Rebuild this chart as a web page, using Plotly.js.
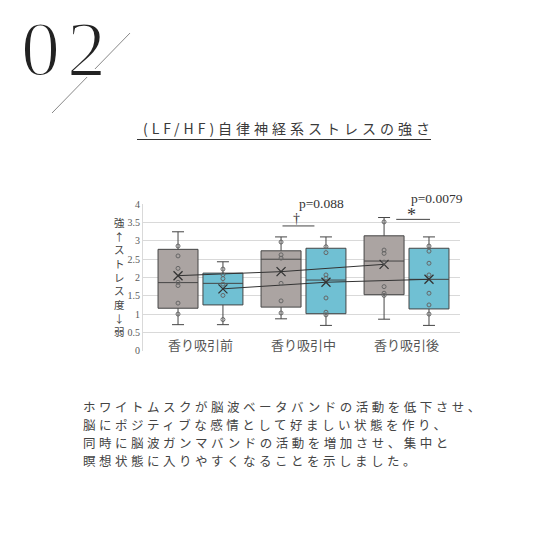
<!DOCTYPE html>
<html>
<head>
<meta charset="utf-8">
<script src="https://cdn.plot.ly/plotly-3.0.1.min.js"></script>
<style>
  html, body { margin: 0; padding: 0; background: #fff; }
  #wrap { position: relative; width: 550px; height: 550px; overflow: hidden; }
  #chart { position: absolute; left: 0; top: 0; width: 550px; height: 550px; }
  .txt { position: absolute; white-space: nowrap; color: #3a3a3a; pointer-events: none; }
  #num { left: 21px; top: 10px; font-family: "Liberation Serif", serif; font-size: 78px; line-height: 78px; letter-spacing: 7px; color: #222; -webkit-text-stroke: 2px #fff; }
  #ttl { left: 143px; top: 120px; font-family: "Noto Sans CJK JP", sans-serif; font-size: 14px; line-height: 16px; letter-spacing: 4px; }
  #rule { position: absolute; left: 137px; top: 139px; width: 294px; height: 1px; background: #333; }
  #body { left: 83px; top: 398px; font-family: "Noto Sans CJK JP", sans-serif; font-size: 12.5px; line-height: 18px; letter-spacing: 3.5px; color: #444; }
</style>
</head>
<body>
<div id="wrap">
  <div id="chart"></div>
  <div id="num" class="txt">02</div>
  <div id="ttl" class="txt">(LF/HF)自律神経系ストレスの強さ</div>
  <div id="rule"></div>
  <div id="body" class="txt">ホワイトムスクが脳波ベータバンドの活動を低下させ、<br>脳にポジティブな感情として好ましい状態を作り、<br>同時に脳波ガンマバンドの活動を増加させ、集中と<br>瞑想状態に入りやすくなることを示しました。</div>
</div>
<script>
var categories = ['香り吸引前', '香り吸引中', '香り吸引後'];

// gray boxes (left box of each pair)
var grayUpper = [3.25, 3.11, 3.64];
var grayQ3 = [2.77, 2.73, 3.14];
var grayMedian = [1.86, 2.50, 2.45];
var grayQ1 = [1.16, 1.19, 1.53];
var grayLower = [0.71, 0.87, 0.86];
var grayMean = [2.05, 2.16, 2.36];
var grayPoints = [
  [2.86, 2.59, 2.25, 1.87, 1.78, 1.30, 1.00],
  [2.97, 2.62, 2.53, 1.84, 1.36, 1.03],
  [3.52, 2.75, 2.66, 2.42, 1.75, 1.57, 1.51]
];

// blue boxes (right box of each pair)
var blueUpper = [2.43, 3.11, 3.11];
var blueQ3 = [2.12, 2.80, 2.80];
var blueMedian = [1.84, 1.93, 1.95];
var blueQ1 = [1.25, 1.01, 1.14];
var blueLower = [0.71, 0.69, 0.69];
var blueMean = [1.69, 1.87, 1.95];
var bluePoints = [
  [2.23, 2.08, 1.97, 1.82, 1.51, 0.85],
  [2.84, 2.68, 2.07, 1.98, 1.44, 1.05, 0.98],
  [2.86, 2.72, 2.39, 2.07, 1.57, 1.25, 1.00]
];

var yTitle = ['強', '↑', 'ス', 'ト', 'レ', 'ス', '度', '↓', '弱'];
var pLabels = ['p=0.088', 'p=0.0079'];
var sigMarks = ['†', '*'];
var sigGroups = [1, 2];

var yRange = [-0.01, 4.01];
var off = 0.218, bw = 0.388;
var grayX = categories.map(function (c, i) { return i - off; });
var blueX = categories.map(function (c, i) { return i + off; });

// value -> paper fraction, so labels above the top tick still show
function py(v) { return (v - yRange[0]) / (yRange[1] - yRange[0]); }

function boxTrace(x, q1, med, q3, lo, hi, fill) {
  return {
    type: 'box', x: x, q1: q1, median: med, q3: q3,
    lowerfence: lo, upperfence: hi, width: bw,
    fillcolor: fill, line: { color: '#454545', width: 1 },
    whiskerwidth: 0.3, boxpoints: false, hoverinfo: 'skip'
  };
}

function meanTrace(x, y) {
  return {
    type: 'scatter', mode: 'lines+markers', x: x, y: y,
    line: { color: '#333', width: 1 },
    marker: { symbol: 'x-thin-open', size: 9, line: { color: '#333', width: 1.3 } },
    hoverinfo: 'skip'
  };
}

function pointTrace(xs, pts) {
  var x = [], y = [];
  pts.forEach(function (list, i) {
    list.forEach(function (v) { x.push(xs[i]); y.push(v); });
  });
  return {
    type: 'scatter', mode: 'markers', x: x, y: y,
    marker: { symbol: 'circle-open', size: 4, color: '#666', line: { width: 1 } },
    hoverinfo: 'skip'
  };
}

var data = [
  boxTrace(grayX, grayQ1, grayMedian, grayQ3, grayLower, grayUpper, '#aba4a2'),
  boxTrace(blueX, blueQ1, blueMedian, blueQ3, blueLower, blueUpper, '#70c0d3'),
  meanTrace(grayX, grayMean),
  meanTrace(blueX, blueMean),
  pointTrace(grayX, grayPoints),
  pointTrace(blueX, bluePoints)
];

var annotations = categories.map(function (c, i) {
  return {
    x: i, y: 0.16, xref: 'x', yref: 'y', text: c, showarrow: false,
    font: { family: 'Noto Sans CJK JP', size: 13, color: '#555' }
  };
});

annotations.push({
  xref: 'paper', yref: 'paper', x: -0.099, y: 0.505, yanchor: 'middle', showarrow: false,
  text: yTitle.join('<br>'),
  font: { family: 'Noto Sans CJK JP', size: 10.5, color: '#444' }
});

var shapes = [];
sigGroups.forEach(function (g, k) {
  var lx0 = k === 0 ? g - 0.204 : g - 0.10;
  var lx1 = k === 0 ? g + 0.106 : g + 0.228;
  var ly = k === 0 ? 3.41 : 3.59;
  shapes.push({
    type: 'line', xref: 'x', yref: 'y', x0: lx0, x1: lx1, y0: ly, y1: ly,
    line: { color: '#444', width: 1 }
  });
  annotations.push({
    x: (lx0 + lx1) / 2 - 0.02, y: py(k === 0 ? 3.60 : 3.70), xref: 'x', yref: 'paper', yanchor: 'middle',
    text: sigMarks[k], showarrow: false,
    font: { family: 'Liberation Serif', size: k === 0 ? 14 : 18, color: '#333' }
  });
  annotations.push({
    x: k === 0 ? g + 0.17 : g + 0.293, y: py(k === 0 ? 4.02 : 4.155), xref: 'x', yref: 'paper', yanchor: 'middle',
    text: pLabels[k], showarrow: false,
    font: { family: 'Liberation Serif', size: 13.5, color: '#333' }
  });
});

// decorative slash behind the number
shapes.push({
  type: 'line', xref: 'paper', yref: 'paper',
  x0: -0.287, y0: 1.619, x1: -0.041, y1: 2.163,
  line: { color: '#888', width: 1 }
});

var layout = {
  width: 550, height: 550,
  margin: { l: 143, r: 90, t: 204, b: 199 },
  paper_bgcolor: '#fff', plot_bgcolor: '#fff',
  showlegend: false,
  xaxis: { range: [-0.558, 2.519], showgrid: false, zeroline: false, showticklabels: false, ticks: '' },
  yaxis: {
    range: yRange, tick0: 0, dtick: 0.5, gridcolor: '#d9d9d9', gridwidth: 1,
    zeroline: false, showline: true, linecolor: '#d9d9d9', ticks: '',
    tickfont: { family: 'Liberation Serif', size: 10, color: '#595959' }
  },
  annotations: annotations,
  shapes: shapes
};

var config = { displayModeBar: false, staticPlot: true };

Plotly.newPlot('chart', data, layout, config);
</script>
</body>
</html>
